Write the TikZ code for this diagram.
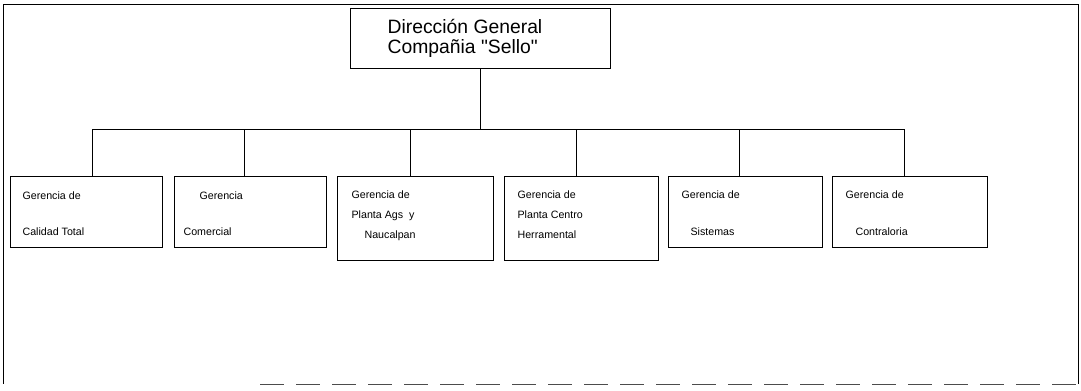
\documentclass[tikz,border=0pt]{standalone}
\usepackage{fontspec}
\setmainfont{Liberation Sans}
\begin{document}
\begin{tikzpicture}[x=0.75pt,y=-0.75pt,line width=0.9pt,
  box/.style={draw,rectangle,inner sep=0pt,anchor=north west},
  lbl/.style={anchor=base west,inner sep=0pt,font=\fontsize{8}{9}\selectfont},
  ttl/.style={anchor=base west,inner sep=0pt,font=\fontsize{14.5}{16}\selectfont},
  link/.style={line width=0.9pt}]
\useasboundingbox (0,0) rectangle (1081,390);
% outer frame
\draw[line width=0.7pt] (1078,384) -- (1078,4) -- (3,4) -- (3,384);
\draw[line width=0.6pt,black!70,dash pattern=on 18pt off 9pt] (260,384) -- (1078,384);
% boxes
\node[box,minimum width=195pt,minimum height=45pt] (top) at (350,8) {};
\node[box,minimum width=114pt,minimum height=53.25pt] (b1) at (10,176) {};
\node[box,minimum width=114pt,minimum height=53.25pt] (b2) at (174,176) {};
\node[box,minimum width=117pt,minimum height=63pt] (b3) at (337,176) {};
\node[box,minimum width=115.5pt,minimum height=63pt] (b4) at (504,176) {};
\node[box,minimum width=115.5pt,minimum height=53.25pt] (b5) at (668,176) {};
\node[box,minimum width=116.25pt,minimum height=53.25pt] (b6) at (832,176) {};
% texts
\node[ttl] (t1) at (387,33) {Dirección General};
\node[ttl] (t2) at (387,53) {Compañia \textquotedbl Sello\textquotedbl};
\node[lbl] (l11) at (22,199) {Gerencia de};
\node[lbl] (l12) at (22,235) {Calidad Total};
\node[lbl] (l21) at (199,199) {Gerencia};
\node[lbl] (l22) at (183,235) {Comercial};
\node[lbl] (l31) at (351,198) {Gerencia de};
\node[lbl] (l32) at (351,218) {Planta Ags\ \ y};
\node[lbl] (l33) at (364,238) {Naucalpan};
\node[lbl] (l41) at (517,198) {Gerencia de};
\node[lbl] (l42) at (517,218) {Planta Centro};
\node[lbl] (l43) at (517,238) {Herramental};
\node[lbl] (l51) at (681,198) {Gerencia de};
\node[lbl] (l52) at (690,235) {Sistemas};
\node[lbl] (l61) at (845,198) {Gerencia de};
\node[lbl] (l62) at (855,235) {Contraloria};
% connectors
\coordinate (bus) at ([yshift=-45pt]top.south);
\draw[link] (top.south) -- (bus);
\draw[link] (bus) -| ([xshift=4.5pt]b1.north);
\draw[link] (bus) -| ([xshift=-4.5pt]b2.north);
\draw[link] (bus) -| ([xshift=-3.75pt]b3.north);
\draw[link] (bus) -| ([xshift=-3.75pt]b4.north);
\draw[link] (bus) -| ([xshift=-4.5pt]b5.north);
\draw[link] (bus) -| ([xshift=-4.1pt]b6.north);
\end{tikzpicture}
\end{document}
